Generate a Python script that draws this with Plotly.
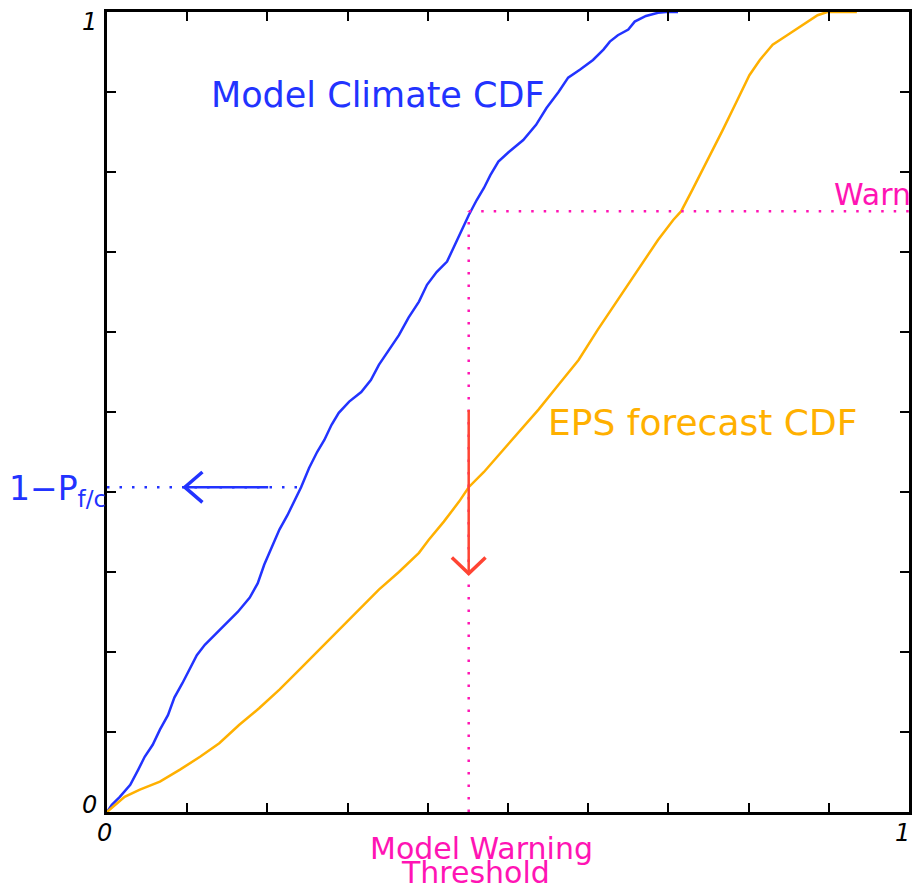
import plotly.graph_objects as go

# Model climate cumulative distribution
clim_x = [0, 0.006, 0.016, 0.029, 0.039, 0.047, 0.057, 0.066, 0.076, 0.084, 0.094, 0.103,
          0.112, 0.122, 0.134, 0.147, 0.163, 0.178, 0.188, 0.196, 0.205, 0.215, 0.225,
          0.234, 0.242, 0.252, 0.262, 0.271, 0.280, 0.289, 0.302, 0.317, 0.329, 0.339,
          0.352, 0.364, 0.376, 0.389, 0.399, 0.411, 0.424, 0.432, 0.441, 0.451, 0.461,
          0.470, 0.478, 0.488, 0.501, 0.519, 0.535, 0.548, 0.563, 0.575, 0.590, 0.606,
          0.619, 0.627, 0.637, 0.650, 0.658, 0.672, 0.687, 0.697, 0.712]
clim_y = [0, 0.009, 0.019, 0.034, 0.053, 0.069, 0.084, 0.103, 0.121, 0.143, 0.161, 0.178,
          0.196, 0.209, 0.221, 0.234, 0.250, 0.268, 0.286, 0.309, 0.330, 0.353, 0.371,
          0.390, 0.406, 0.430, 0.450, 0.465, 0.484, 0.499, 0.513, 0.525, 0.540, 0.559,
          0.578, 0.596, 0.618, 0.638, 0.659, 0.675, 0.688, 0.705, 0.725, 0.746, 0.765,
          0.780, 0.796, 0.813, 0.825, 0.840, 0.859, 0.880, 0.900, 0.918, 0.928, 0.940,
          0.953, 0.963, 0.971, 0.978, 0.988, 0.995, 0.999, 1.0, 1.0]

# EPS forecast cumulative distribution
eps_x = [0, 0.010, 0.022, 0.041, 0.066, 0.091, 0.116, 0.140, 0.165, 0.190, 0.215, 0.240,
         0.265, 0.289, 0.314, 0.339, 0.364, 0.389, 0.401, 0.420, 0.439, 0.451, 0.470,
         0.488, 0.513, 0.538, 0.563, 0.588, 0.612, 0.637, 0.662, 0.687, 0.706, 0.716,
         0.730, 0.749, 0.768, 0.786, 0.801, 0.814, 0.830, 0.848, 0.867, 0.886, 0.898, 0.935]
eps_y = [0, 0.009, 0.019, 0.028, 0.038, 0.053, 0.069, 0.086, 0.109, 0.130, 0.153, 0.178,
         0.203, 0.228, 0.253, 0.278, 0.300, 0.324, 0.340, 0.363, 0.388, 0.406, 0.425,
         0.446, 0.475, 0.503, 0.534, 0.565, 0.603, 0.640, 0.678, 0.715, 0.740, 0.751,
         0.778, 0.815, 0.853, 0.890, 0.921, 0.940, 0.959, 0.971, 0.984, 0.996, 1.0, 1.0]

# Key levels
warn_threshold = 0.451     # model warning threshold (x)
warn_level = 0.751         # warning probability level (y)
one_minus_p = 0.406        # 1 - P f/c
clim_cross = 0.242         # climate CDF at 1 - P f/c

tick_vals = [i / 10 for i in range(11)]
end_labels = ["0", "1"]

BLUE = "#2233ff"
ORANGE = "#ffb000"
MAGENTA = "#ff14b4"
RED = "#ff4433"
FONT = "DejaVu Sans"

fig = go.Figure()

fig.add_trace(go.Scatter(x=clim_x, y=clim_y, mode="lines",
                         line=dict(color=BLUE, width=2.5), hoverinfo="skip"))
fig.add_trace(go.Scatter(x=eps_x, y=eps_y, mode="lines",
                         line=dict(color=ORANGE, width=2.5), hoverinfo="skip"))

dot = "2.5px,10px"
# Threshold guides
fig.add_shape(type="line", x0=warn_threshold, x1=warn_threshold, y0=0, y1=warn_level,
              line=dict(color=MAGENTA, width=2.5, dash=dot))
fig.add_shape(type="line", x0=warn_threshold, x1=1, y0=warn_level, y1=warn_level,
              line=dict(color=MAGENTA, width=2.5, dash=dot))
# 1 - P f/c guide
fig.add_shape(type="line", x0=0, x1=clim_cross, y0=one_minus_p, y1=one_minus_p,
              line=dict(color=BLUE, width=2.5, dash=dot))

# Blue arrow pointing left
ax0, ax1 = 0.097, 0.201
fig.add_shape(type="line", x0=ax0, x1=ax1, y0=one_minus_p, y1=one_minus_p,
              line=dict(color=BLUE, width=2.5))
fig.add_shape(type="path",
              path=f"M {ax0 + 0.022},{one_minus_p + 0.019} L {ax0},{one_minus_p} L {ax0 + 0.022},{one_minus_p - 0.019}",
              line=dict(color=BLUE, width=3.5))

# Red arrow pointing down
ry0, ry1 = 0.5025, 0.298
fig.add_shape(type="line", x0=warn_threshold, x1=warn_threshold, y0=ry0, y1=ry1,
              line=dict(color=RED, width=2.5))
fig.add_shape(type="path",
              path=f"M {warn_threshold - 0.021},{ry1 + 0.02} L {warn_threshold},{ry1} L {warn_threshold + 0.021},{ry1 + 0.02}",
              line=dict(color=RED, width=3.5))

fig.add_annotation(x=0.338, y=0.896, text="Model Climate CDF", showarrow=False,
                   font=dict(family=FONT, size=35, color=BLUE))
fig.add_annotation(x=0.743, y=0.4875, text="EPS forecast CDF", showarrow=False,
                   font=dict(family=FONT, size=36, color=ORANGE))
fig.add_annotation(x=0.904, y=warn_level, yanchor="bottom", xanchor="left", text="Warn",
                   showarrow=False, yshift=-3, font=dict(family=FONT, size=30, color=MAGENTA))
fig.add_annotation(x=0, y=one_minus_p, xref="paper", xanchor="right", yanchor="middle",
                   text="1\u2212P<sub>f/c</sub>", showarrow=False, xshift=1, yshift=-3,
                   font=dict(family=FONT, size=33, color=BLUE))
fig.add_annotation(x=0.467, y=-0.046, xref="paper", yref="paper", xanchor="center",
                   yanchor="middle", text="Model Warning", showarrow=False,
                   font=dict(family=FONT, size=30, color=MAGENTA))
fig.add_annotation(x=0.460, y=-0.075, xref="paper", yref="paper", xanchor="center",
                   yanchor="middle", text="Threshold", showarrow=False,
                   font=dict(family=FONT, size=30, color=MAGENTA))

# End labels of both axes
tick_font = dict(family=FONT, size=24, color="black", style="italic")
for val, lab in zip([0, 1], end_labels):
    fig.add_annotation(x=0, y=val, xref="paper", yref="paper", xanchor="center",
                       yanchor="middle", text=lab, showarrow=False,
                       xshift=-18, yshift=(7 if val == 0 else -10), font=tick_font)
    fig.add_annotation(x=val, y=0, xref="paper", yref="paper", xanchor="center",
                       yanchor="middle", text=lab, showarrow=False,
                       xshift=(-3 if val == 0 else -7), yshift=-21, font=tick_font)

axis_common = dict(range=[0, 1], tickvals=tick_vals, showticklabels=False, ticks="inside",
                   ticklen=9, tickwidth=2, tickcolor="black", showline=True, linecolor="black",
                   linewidth=2.5, mirror="ticks", showgrid=False, zeroline=False)

fig.update_xaxes(**axis_common)
fig.update_yaxes(**axis_common)

fig.update_layout(width=914, height=892, showlegend=False,
                  plot_bgcolor="white", paper_bgcolor="white",
                  margin=dict(l=107, r=2, t=12, b=80))

fig.write_html("out.html")
